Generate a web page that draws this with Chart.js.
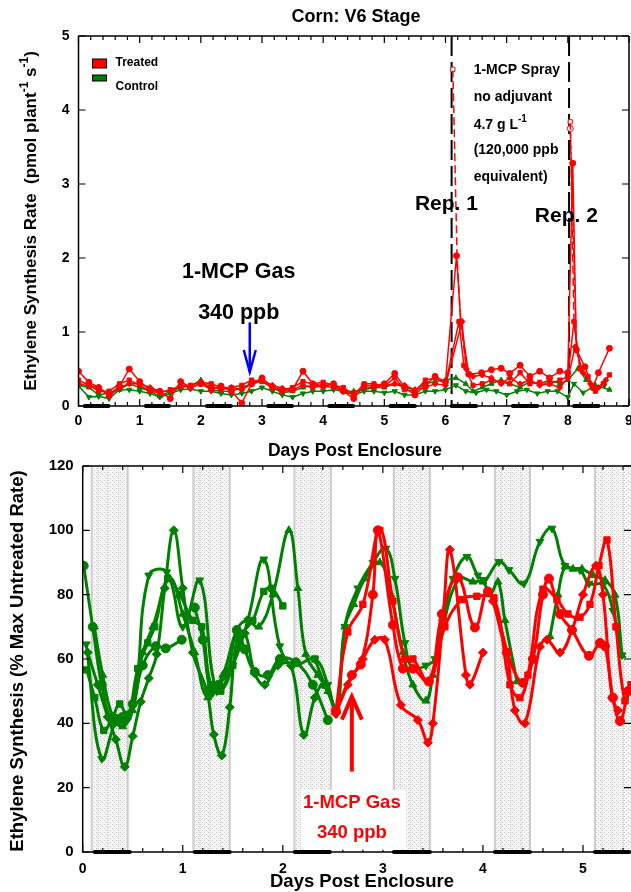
<!DOCTYPE html>
<html>
<head>
<meta charset="utf-8">
<script src="https://cdn.jsdelivr.net/npm/chart.js@4.4.1/dist/chart.umd.min.js"></script>
<style>
  body { margin: 0; background: #fff; }
  #wrap { position: relative; width: 631px; height: 892px; overflow: hidden; }
  canvas { position: absolute; left: 0; }
  #topChart { top: 0; }
  #botChart { top: 460px; }
</style>
</head>
<body>
<div id="wrap">
  <canvas id="topChart" width="631" height="460"></canvas>
  <canvas id="botChart" width="631" height="432"></canvas>
</div>
<script>
// ---------- top panel: pmol plant-1 s-1, sampled about every 4 h ----------
const topDays = [0, 0.17, 0.33, 0.5, 0.67, 0.83, 1, 1.17, 1.33, 1.5, 1.67, 1.83, 2, 2.17, 2.33, 2.5, 2.67, 2.83, 3,
  3.17, 3.33, 3.5, 3.67, 3.83, 4, 4.17, 4.33, 4.5, 4.67, 4.83, 5, 5.17, 5.33, 5.5, 5.67, 5.83, 6];
const trtCircleTop  = [0.47, 0.32, 0.25, 0.15, 0.27, 0.5, 0.33, 0.22, 0.2, 0.1, 0.33, 0.25, 0.3, 0.22, 0.27, 0.2, 0.04, 0.3, 0.38,
  0.25, 0.2, 0.22, 0.47, 0.3, 0.27, 0.3, 0.2, 0.1, 0.28, 0.27, 0.3, 0.44, 0.25, 0.15, 0.28, 0.4, 0.33];
const trtSquareTop  = [0.35, 0.28, 0.2, 0.2, 0.3, 0.35, 0.28, 0.2, 0.18, 0.22, 0.27, 0.28, 0.32, 0.3, 0.25, 0.25, 0.28, 0.35, 0.33,
  0.25, 0.22, 0.25, 0.33, 0.3, 0.32, 0.28, 0.25, 0.15, 0.3, 0.3, 0.27, 0.38, 0.22, 0.2, 0.35, 0.38, 0.3];
const trtDiamondTop = [0.3, 0.27, 0.25, 0.13, 0.25, 0.3, 0.3, 0.25, 0.2, 0.2, 0.28, 0.25, 0.3, 0.27, 0.22, 0.25, 0.22, 0.3, 0.35,
  0.28, 0.24, 0.22, 0.28, 0.25, 0.27, 0.25, 0.2, 0.18, 0.25, 0.25, 0.28, 0.3, 0.28, 0.22, 0.25, 0.3, 0.28];
const ctlUpTop      = [0.28, 0.25, 0.15, 0.18, 0.22, 0.3, 0.25, 0.2, 0.13, 0.2, 0.25, 0.27, 0.35, 0.22, 0.2, 0.2, 0.25, 0.3, 0.33,
  0.25, 0.18, 0.2, 0.25, 0.28, 0.27, 0.3, 0.2, 0.2, 0.22, 0.25, 0.25, 0.3, 0.25, 0.22, 0.3, 0.33, 0.35];
const ctlDownTop    = [0.27, 0.12, 0.13, 0.1, 0.22, 0.22, 0.2, 0.17, 0.12, 0.17, 0.22, 0.23, 0.2, 0.2, 0.17, 0.15, 0.17, 0.2, 0.25,
  0.2, 0.15, 0.12, 0.17, 0.2, 0.2, 0.22, 0.2, 0.15, 0.2, 0.2, 0.18, 0.2, 0.15, 0.15, 0.2, 0.2, 0.22];

// after the sprays ([day, rate])
const trtCircleSpray  = [[6.18, 2.03], [6.25, 1.14], [6.38, 0.43], [6.59, 0.45], [6.75, 0.49], [6.91, 0.51], [7.05, 0.44], [7.22, 0.55],
  [7.38, 0.4], [7.54, 0.47], [7.7, 0.38], [7.87, 0.47], [8.0, 0.45], [8.08, 3.28], [8.14, 0.76], [8.28, 0.53], [8.41, 0.25], [8.5, 0.45], [8.68, 0.78]];
const trtSquareSpray  = [[6.22, 1.14], [6.3, 0.55], [6.45, 0.28], [6.6, 0.3], [6.75, 0.35], [6.91, 0.32], [7.05, 0.3], [7.22, 0.45],
  [7.38, 0.3], [7.54, 0.32], [7.7, 0.3], [7.87, 0.35], [8.0, 0.4], [8.1, 1.14], [8.2, 0.5], [8.33, 0.4], [8.45, 0.2], [8.58, 0.3], [8.68, 0.42]];
const trtDiamondSpray = [[6.27, 1.14], [6.34, 0.5], [6.45, 0.4], [6.6, 0.42], [6.75, 0.38], [6.91, 0.3], [7.05, 0.38], [7.22, 0.3],
  [7.38, 0.35], [7.54, 0.28], [7.7, 0.3], [7.87, 0.25], [8.0, 0.38], [8.12, 0.8], [8.25, 0.45], [8.37, 0.3], [8.5, 0.25], [8.62, 0.35]];
const ctlUpSpray   = [[6.17, 0.38], [6.33, 0.3], [6.45, 0.2], [6.6, 0.25], [6.75, 0.3], [6.91, 0.35], [7.05, 0.3], [7.22, 0.25],
  [7.38, 0.33], [7.54, 0.3], [7.7, 0.35], [7.87, 0.3], [8.0, 0.35], [8.17, 0.51], [8.3, 0.35], [8.45, 0.28], [8.68, 0.22]];
const ctlDownSpray = [[6.17, 0.28], [6.33, 0.2], [6.5, 0.18], [6.67, 0.22], [6.83, 0.2], [7.0, 0.15], [7.17, 0.2], [7.33, 0.22],
  [7.5, 0.17], [7.67, 0.2], [7.83, 0.2], [8.0, 0.12], [8.1, 0.3], [8.25, 0.18], [8.4, 0.25], [8.6, 0.28]];
// first readings right after spraying (open markers, dashed)
const sprayOpenSquare = [[6.12, 4.55], [6.19, 2.0], [6.25, 1.14], [6.35, 0.45], [6.36, null], [8.04, 3.84], [8.1, 1.14], [8.2, 0.5]];
const sprayOpenCircle = [[8.04, 3.75], [8.1, 2.0], [8.14, 0.76]];

const sprayDays = [6.1, 8.02];
const topNightStart = [0.1, 1.1, 2.1, 3.1, 4.1, 5.1, 6.1, 7.1, 8.1];
const topNightEnd   = [0.49, 1.48, 2.49, 3.49, 4.49, 5.5, 6.5, 7.5, 8.5];

// ---------- bottom panel: % of max untreated rate ----------
const tCirclePre  = [[0.01, 89], [0.1, 70], [0.19, 52], [0.3, 40], [0.4, 41], [0.5, 46], [0.6, 58], [0.73, 64], [0.83, 63.3], [0.99, 66], [1.05, null],
  [1.12, 76], [1.2, 66], [1.28, 50], [1.36, 52], [1.45, 56], [1.54, 69], [1.62, 63], [1.72, 56], [1.85, 55], [1.97, 60], [2.13, 59], [2.3, 52], [2.45, 41]];
const tSquarePre  = [[0.04, 56.6], [0.12, 48], [0.21, 37.8], [0.3, 42], [0.37, 46], [0.45, 42], [0.55, 57], [0.65, 65], [0.72, 70], [0.85, 85],
  [0.97, 80], [1.1, 72], [1.19, 70], [1.28, 52], [1.38, 50], [1.5, 58], [1.6, 68], [1.7, 72], [1.81, 81], [1.89, 82], [2.0, 76.5], [2.1, null],
  [2.32, 60], [2.42, 52], [2.53, 44]];
const tDiamondPre = [[0.05, 62], [0.15, 52], [0.25, 42], [0.33, 35], [0.42, 26.5], [0.5, 36], [0.58, 46.7], [0.66, 54], [0.74, 61.5], [0.82, 82],
  [0.91, 100], [1.0, 82], [1.1, 62], [1.24, 50], [1.31, 36.5], [1.39, 30], [1.47, 45], [1.54, 66], [1.62, 68], [1.72, 55.5], [1.82, 52],
  [1.95, 58], [2.08, 58], [2.21, 36.4], [2.32, 48], [2.41, 52], [2.53, 43]];
const tCirclePost  = [[2.53, 44], [2.69, 55], [2.78, 58.3], [2.9, 80], [2.95, 100], [3.1, 70.6], [3.2, 57], [3.3, 57], [3.46, 53], [3.59, 74],
  [3.75, 85.4], [3.92, 69.8], [4.05, 81], [4.24, 62], [4.4, 52.6], [4.5, 60], [4.6, 80], [4.66, 85], [4.77, 74], [4.89, 69], [5.06, 61],
  [5.17, 65], [5.22, 64], [5.3, 48], [5.37, 40.7], [5.45, 50]];
const tSquarePost  = [[2.53, 44], [2.65, 68.4], [2.8, 77], [2.97, 100], [3.1, 78], [3.22, 60], [3.3, 60], [3.46, 53], [3.62, 70], [3.79, 78.5],
  [3.94, 79.5], [4.11, 79], [4.27, 52], [4.37, 48], [4.45, 55], [4.6, 81.7], [4.74, 78.5], [4.85, 74], [4.97, 73], [5.07, 77], [5.16, 89],
  [5.24, 97], [5.33, 70], [5.42, 47], [5.48, 52]];
const tDiamondPost = [[2.53, 43], [2.65, 52], [2.8, 60], [2.92, 66], [3.02, 66], [3.18, 45.7], [3.35, 41], [3.45, 34], [3.5, 40], [3.6, 72],
  [3.67, 94], [3.83, 55], [3.87, 52], [4.0, 62], [4.05, null], [4.1, 78], [4.24, 62], [4.32, 44], [4.42, 40], [4.57, 63.8], [4.64, 66],
  [4.77, 62], [4.89, 69], [5.0, 80], [5.13, 89], [5.2, 80], [5.29, 48], [5.35, 44]];
const cUp = [[0.116, 70], [0.2, 55], [0.3, 42], [0.4, 39], [0.5, 44], [0.6, 62], [0.7, 70], [0.87, 85], [1.0, 74], [1.12, 62], [1.25, 48],
  [1.4, 55], [1.54, 69], [1.64, 72], [1.76, 70], [1.9, 80], [2.06, 100], [2.15, 82], [2.23, 61.5], [2.35, 55], [2.45, 50], [2.54, 44],
  [2.62, 70], [2.71, 77], [2.82, 85], [2.97, 90], [3.08, 80], [3.2, 62], [3.3, 52], [3.43, 47], [3.5, 55], [3.6, 70], [3.76, 85],
  [3.9, 84], [4.0, 84], [4.07, 80], [4.15, 84], [4.22, 72], [4.34, 53], [4.5, null], [4.67, 67], [4.75, 80], [4.82, 88.7], [4.9, 88],
  [4.99, 88], [5.1, 86], [5.22, 84.5], [5.32, 79.9], [5.39, 61.2]];
const cDown = [[0.036, 64.6], [0.19, 29], [0.35, 42], [0.5, 45], [0.66, 86], [0.84, 87], [1.0, 70], [1.17, 84.5], [1.34, 50], [1.5, 58],
  [1.65, 72], [1.81, 91], [1.97, 64], [2.1, 58], [2.32, 60], [2.45, 52], [2.54, 43], [2.62, 70], [2.75, 82], [2.9, 90], [3.03, 94.4],
  [3.12, 85], [3.22, 65], [3.3, 57], [3.43, 58], [3.52, 60], [3.6, 72], [3.7, 85], [3.84, 91.8], [3.95, 86], [4.02, 84.6], [4.16, 90.2],
  [4.26, 87.7], [4.41, 83.5], [4.57, 96.5], [4.69, 100.6], [4.82, 89], [4.97, 87.7], [5.06, 83.5], [5.2, 83], [5.3, 75], [5.39, 61.2]];

const botNightStart = [0.09, 1.107, 2.116, 3.11, 4.12, 5.12];
const botNightEnd   = [0.45, 1.47, 2.48, 3.47, 4.47, 5.5];
const botBarStart = [0.12, 1.12, 2.12, 3.11, 4.12, 5.12];
const botBarEnd   = [0.47, 1.47, 2.47, 3.47, 4.47, 5.5];

const RED = '#ff0000', GREEN = '#008000';
const FONT = "'Liberation Sans', Arial, sans-serif";
Chart.defaults.font.family = FONT;
Chart.defaults.font.weight = 'bold';
Chart.defaults.color = '#000';

const pts = arr => arr.map(p => ({ x: p[0], y: p[1] }));

function series(data, color, style, extra) {
  return Object.assign({
    data: pts(data), showLine: true, borderColor: color, backgroundColor: color,
    pointBackgroundColor: color, pointBorderColor: color, pointStyle: style,
    pointRadius: 3, pointBorderWidth: 1, borderWidth: 1.5, tension: 0, spanGaps: false
  }, extra || {});
}

function txt(ctx, s, x, y, size, color, align) {
  ctx.font = `bold ${size}px ${FONT}`;
  ctx.fillStyle = color || '#000';
  ctx.textAlign = align || 'center';
  ctx.textBaseline = 'middle';
  ctx.fillText(s, x, y);
}

// text made of [string, isSuperscript] pieces, laid out left to right
function richText(ctx, parts, x, y, size, align) {
  const small = Math.round(size * 0.68);
  let total = 0;
  parts.forEach(p => { ctx.font = `bold ${p[1] ? small : size}px ${FONT}`; total += ctx.measureText(p[0]).width; });
  let cx = align === 'center' ? x - total / 2 : x;
  ctx.fillStyle = '#000'; ctx.textAlign = 'left'; ctx.textBaseline = 'middle';
  parts.forEach(p => {
    ctx.font = `bold ${p[1] ? small : size}px ${FONT}`;
    ctx.fillText(p[0], cx, p[1] ? y - size * 0.38 : y);
    cx += ctx.measureText(p[0]).width;
  });
}

function drawFrame(chart, rightLine, minor) {
  const { ctx, chartArea: a, scales: { x, y } } = chart;
  ctx.save();
  ctx.strokeStyle = '#000';
  ctx.lineWidth = 1.5;
  ctx.beginPath();
  ctx.moveTo(a.left, a.top); ctx.lineTo(a.left, a.bottom); ctx.lineTo(a.right, a.bottom);
  ctx.moveTo(a.left, a.top); ctx.lineTo(a.right, a.top);
  if (rightLine) { ctx.moveTo(a.right, a.top); ctx.lineTo(a.right, a.bottom); }
  ctx.stroke();
  ctx.lineWidth = 1.2;
  ctx.beginPath();
  for (let k = 0; k * minor <= x.max + 1e-9; k++) {
    const px = x.getPixelForValue(k * minor);
    const len = Math.abs(k * minor - Math.round(k * minor)) < 1e-6 ? 7 : 4;
    ctx.moveTo(px, a.bottom); ctx.lineTo(px, a.bottom - len);
    ctx.moveTo(px, a.top); ctx.lineTo(px, a.top + len);
  }
  y.ticks.forEach(t => {
    const py = y.getPixelForValue(t.value);
    ctx.moveTo(a.left, py); ctx.lineTo(a.left + 7, py);
    ctx.moveTo(a.right, py); ctx.lineTo(a.right - 7, py);
  });
  ctx.stroke();
  ctx.restore();
}

function drawNightBars(chart, starts, ends) {
  const { ctx, chartArea: a, scales: { x } } = chart;
  ctx.save();
  ctx.strokeStyle = '#000'; ctx.lineWidth = 4; ctx.lineCap = 'round';
  starts.forEach((s, i) => {
    ctx.beginPath();
    ctx.moveTo(x.getPixelForValue(s), a.bottom);
    ctx.lineTo(Math.min(x.getPixelForValue(ends[i]), a.right - 2), a.bottom);
    ctx.stroke();
  });
  ctx.restore();
}

function arrow(ctx, x0, y0, x1, y1, color, width, headLen, headHalf) {
  ctx.save();
  ctx.strokeStyle = color; ctx.lineWidth = width; ctx.lineCap = 'butt';
  ctx.beginPath(); ctx.moveTo(x0, y0); ctx.lineTo(x1, y1); ctx.stroke();
  const dir = Math.sign(y1 - y0);
  ctx.beginPath();
  ctx.moveTo(x1 - headHalf, y1 - dir * headLen); ctx.lineTo(x1, y1); ctx.lineTo(x1 + headHalf, y1 - dir * headLen);
  ctx.stroke();
  ctx.restore();
}

// ---------- top chart ----------
const topDecor = {
  id: 'topDecor',
  beforeDatasetsDraw(chart) {
    const { ctx, chartArea: a, scales: { x } } = chart;
    ctx.save();
    ctx.strokeStyle = '#000'; ctx.lineWidth = 2; ctx.setLineDash([20, 6]);
    sprayDays.forEach(d => {
      const px = x.getPixelForValue(d);
      ctx.beginPath(); ctx.moveTo(px, a.top); ctx.lineTo(px, a.bottom); ctx.stroke();
    });
    ctx.restore();
  },
  afterDatasetsDraw(chart) {
    const { ctx, chartArea: a, scales: { x, y } } = chart;
    drawFrame(chart, true, 0.2);
    drawNightBars(chart, topNightStart, topNightEnd);
    // legend
    ctx.save();
    ctx.lineWidth = 1; ctx.strokeStyle = '#000';
    ctx.fillStyle = RED; ctx.fillRect(a.left + 14, a.top + 23, 14, 9); ctx.strokeRect(a.left + 14, a.top + 23, 14, 9);
    ctx.fillStyle = GREEN; ctx.fillRect(a.left + 14, a.top + 39, 14, 6); ctx.strokeRect(a.left + 14, a.top + 39, 14, 6);
    ctx.restore();
    txt(ctx, 'Treated', a.left + 37, a.top + 26.5, 12, '#000', 'left');
    txt(ctx, 'Control', a.left + 37, a.top + 51, 12, '#000', 'left');
    // gas treatment
    txt(ctx, '1-MCP Gas', x.getPixelForValue(2.62), y.getPixelForValue(1.81), 21.5);
    txt(ctx, '340 ppb', x.getPixelForValue(2.62), y.getPixelForValue(1.26), 21.5);
    arrow(ctx, x.getPixelForValue(2.8), y.getPixelForValue(1.13), x.getPixelForValue(2.8), y.getPixelForValue(0.46), '#0000ff', 2.5, 22, 6);
    // spray note
    const sx = x.getPixelForValue(6.46);
    txt(ctx, '1-MCP Spray', sx, y.getPixelForValue(4.54), 14, '#000', 'left');
    txt(ctx, 'no adjuvant', sx, y.getPixelForValue(4.18), 14, '#000', 'left');
    richText(ctx, [['4.7 g L', 0], ['-1', 1]], sx, y.getPixelForValue(3.81) + 1, 14, 'left');
    txt(ctx, '(120,000 ppb', sx, y.getPixelForValue(3.46), 14, '#000', 'left');
    txt(ctx, 'equivalent)', sx, y.getPixelForValue(3.09), 14, '#000', 'left');
    txt(ctx, 'Rep. 1', x.getPixelForValue(5.5), y.getPixelForValue(2.73), 21, '#000', 'left');
    txt(ctx, 'Rep. 2', x.getPixelForValue(7.46), y.getPixelForValue(2.57), 21, '#000', 'left');
    // titles
    txt(ctx, 'Corn: V6 Stage', 356, 17, 18);
    txt(ctx, 'Days Post Enclosure', 355, 451, 17.5);
    ctx.save();
    ctx.translate(31, (a.top + a.bottom) / 2);
    ctx.rotate(-Math.PI / 2);
    richText(ctx, [['Ethylene Synthesis Rate  (pmol plant', 0], ['-1', 1], [' s', 0], ['-1', 1], [')', 0]], 0, 0, 17, 'center');
    ctx.restore();
  }
};

const joinTop = (vals, spray) => topDays.map((d, i) => [d, vals[i]]).concat(spray);
const intLabel = v => Math.abs(v - Math.round(v)) < 1e-6 ? String(Math.round(v)) : '';

new Chart(document.getElementById('topChart'), {
  type: 'scatter',
  data: {
    datasets: [
      series(sprayOpenSquare, RED, 'rect', { borderDash: [8, 4], pointRadius: [3, 0, 0, 0, 0, 3, 0, 0], pointBackgroundColor: '#fff' }),
      series(sprayOpenCircle, RED, 'circle', { borderDash: [8, 4], pointRadius: [3, 0, 0], pointBackgroundColor: '#fff' }),
      series(joinTop(trtCircleTop, trtCircleSpray), RED, 'circle'),
      series(joinTop(trtSquareTop, trtSquareSpray), RED, 'rect'),
      series(joinTop(trtDiamondTop, trtDiamondSpray), RED, 'rectRot'),
      series(joinTop(ctlUpTop, ctlUpSpray), GREEN, 'triangle'),
      series(joinTop(ctlDownTop, ctlDownSpray), GREEN, 'triangle', { pointRotation: 180 })
    ]
  },
  options: {
    responsive: false, animation: false,
    layout: { autoPadding: false, padding: { top: 36, right: 2, left: 0, bottom: 0 } },
    plugins: { legend: { display: false }, tooltip: { enabled: false } },
    scales: {
      x: {
        type: 'linear', min: 0, max: 9,
        grid: { display: false, drawTicks: false }, border: { display: false },
        ticks: { stepSize: 1, autoSkip: false, includeBounds: false, padding: 7, font: { size: 14, weight: 'bold' }, callback: intLabel },
        afterFit: s => { s.height = 54; s.paddingRight = 0; s.paddingLeft = 0; }
      },
      y: {
        min: 0, max: 5,
        grid: { display: false, drawTicks: false }, border: { display: false },
        ticks: { stepSize: 1, padding: 9, font: { size: 14, weight: 'bold' } },
        afterFit: s => { s.width = 78.5; s.paddingTop = 0; s.paddingBottom = 0; }
      }
    }
  },
  plugins: [topDecor]
});

// ---------- bottom chart ----------
function stipple(ctx) {
  const c = document.createElement('canvas');
  c.width = 4; c.height = 4;
  const g = c.getContext('2d');
  g.fillStyle = '#f6f6f6'; g.fillRect(0, 0, 4, 4);
  g.fillStyle = '#c6c6c6'; g.fillRect(0, 0, 1, 1); g.fillRect(2, 2, 1, 1);
  return ctx.createPattern(c, 'repeat');
}

const botDecor = {
  id: 'botDecor',
  beforeDatasetsDraw(chart) {
    const { ctx, chartArea: a, scales: { x } } = chart;
    ctx.save();
    const pat = stipple(ctx);
    botNightStart.forEach((s, i) => {
      const x0 = x.getPixelForValue(s), x1 = Math.min(x.getPixelForValue(botNightEnd[i]), a.right + 5);
      ctx.fillStyle = pat; ctx.fillRect(x0, a.top + 1, x1 - x0, a.bottom - a.top - 1);
      ctx.strokeStyle = '#cccccc'; ctx.lineWidth = 2;
      ctx.beginPath(); ctx.moveTo(x0, a.top); ctx.lineTo(x0, a.bottom); ctx.moveTo(x1, a.top); ctx.lineTo(x1, a.bottom); ctx.stroke();
      ctx.strokeStyle = '#c4c4c4'; ctx.lineWidth = 1; ctx.setLineDash([1, 1]);
      [0.18, 0.45, 0.75].forEach(f => {
        const xi = x0 + (x1 - x0) * f;
        ctx.beginPath(); ctx.moveTo(xi, a.top); ctx.lineTo(xi, a.bottom); ctx.stroke();
      });
      ctx.setLineDash([]);
    });
    ctx.restore();
  },
  afterDatasetsDraw(chart) {
    const { ctx, chartArea: a, scales: { x, y } } = chart;
    drawFrame(chart, false, 0.2);
    drawNightBars(chart, botBarStart, botBarEnd);
    // gas note with white box
    ctx.save();
    ctx.fillStyle = '#fff';
    const bx0 = x.getPixelForValue(2.18), bx1 = x.getPixelForValue(3.23);
    const by0 = y.getPixelForValue(19.3), by1 = y.getPixelForValue(0.7);
    ctx.fillRect(bx0, by0, bx1 - bx0, by1 - by0);
    ctx.restore();
    txt(ctx, '1-MCP Gas', x.getPixelForValue(2.69), y.getPixelForValue(15.3), 18.5, RED);
    txt(ctx, '340 ppb', x.getPixelForValue(2.69), y.getPixelForValue(6), 18.5, RED);
    arrow(ctx, x.getPixelForValue(2.69), y.getPixelForValue(25), x.getPixelForValue(2.69), y.getPixelForValue(48.3), RED, 4, 23, 10);
    // titles
    txt(ctx, 'Days Post Enclosure', 362, 422, 18.5);
    ctx.save();
    ctx.translate(18, (a.top + a.bottom) / 2 + 2);
    ctx.rotate(-Math.PI / 2);
    txt(ctx, 'Ethylene Synthesis (% Max Untreated Rate)', 0, 0, 18.5);
    ctx.restore();
  }
};

const big = { pointRadius: 4.5, borderWidth: 3, tension: 0.42 };

new Chart(document.getElementById('botChart'), {
  type: 'scatter',
  data: {
    datasets: [
      series(tCirclePost, RED, 'circle', big),
      series(tSquarePost, RED, 'rect', big),
      series(tDiamondPost, RED, 'rectRot', big),
      series(cUp, GREEN, 'triangle', big),
      series(cDown, GREEN, 'triangle', Object.assign({ pointRotation: 180 }, big)),
      series(tCirclePre, GREEN, 'circle', big),
      series(tSquarePre, GREEN, 'rect', big),
      series(tDiamondPre, GREEN, 'rectRot', big)
    ]
  },
  options: {
    responsive: false, animation: false,
    layout: { autoPadding: false, padding: { top: 6, right: 0, left: 0, bottom: 0 } },
    plugins: { legend: { display: false }, tooltip: { enabled: false } },
    scales: {
      x: {
        type: 'linear', min: 0, max: 5.48,
        grid: { display: false, drawTicks: false }, border: { display: false },
        ticks: { stepSize: 1, autoSkip: false, includeBounds: false, padding: 9, font: { size: 14, weight: 'bold' }, callback: intLabel },
        afterFit: s => { s.height = 40; s.paddingRight = 0; s.paddingLeft = 0; }
      },
      y: {
        min: 0, max: 120,
        grid: { display: false, drawTicks: false }, border: { display: false },
        ticks: { stepSize: 20, padding: 9, font: { size: 15, weight: 'bold' } },
        afterFit: s => { s.width = 82.7; s.paddingTop = 0; s.paddingBottom = 0; }
      }
    }
  },
  plugins: [botDecor]
});
</script>
</body>
</html>
